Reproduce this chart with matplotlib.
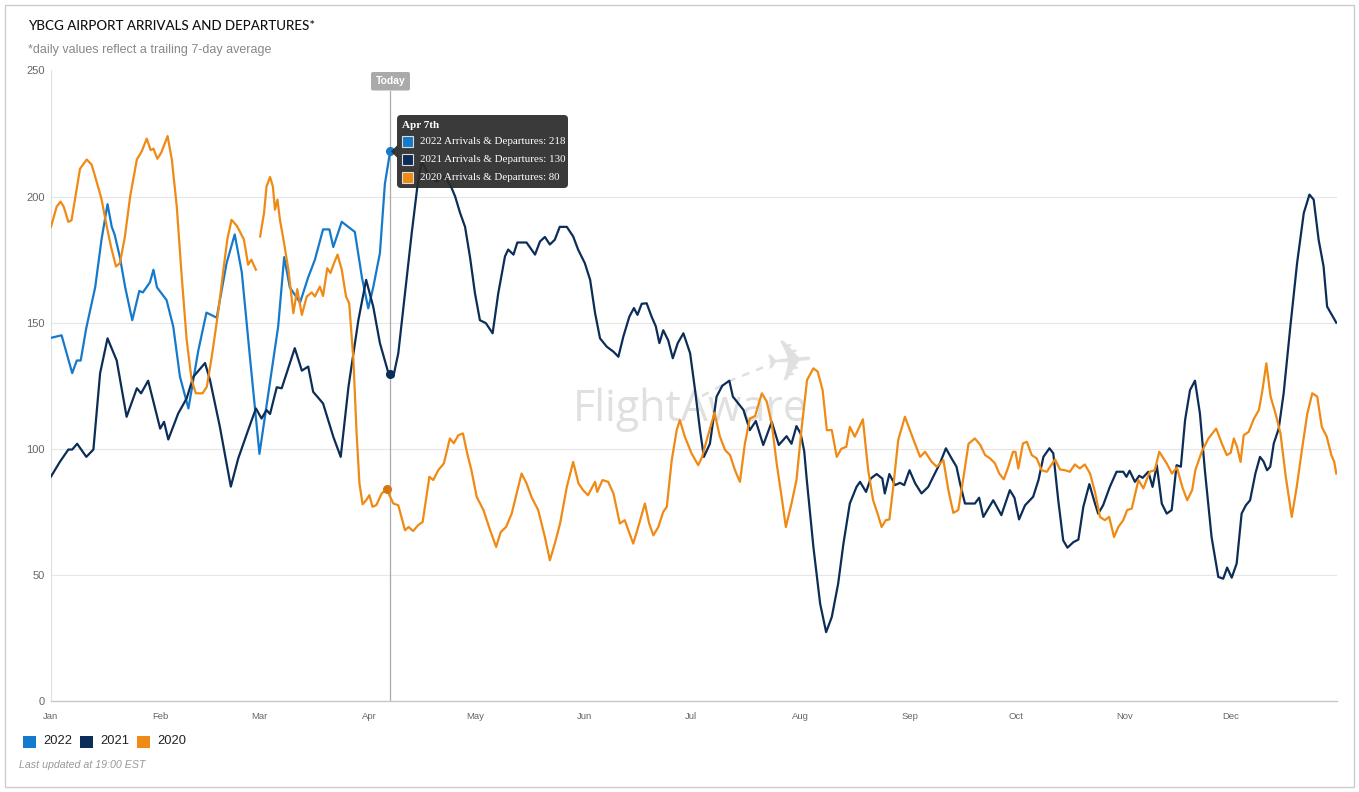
import numpy as np
import matplotlib
matplotlib.use("Agg")
import matplotlib.pyplot as plt
from matplotlib.patches import Rectangle, FancyBboxPatch, Polygon

W, H = 1359, 792

# ---------------- data ----------------
month_labels = ["Jan", "Feb", "Mar", "Apr", "May", "Jun",
                "Jul", "Aug", "Sep", "Oct", "Nov", "Dec"]
month_days = [0, 31, 59, 90, 120, 151, 181, 212, 243, 273, 304, 334]
y_ticks = [0, 50, 100, 150, 200, 250]

series_names = ["2022", "2021", "2020"]

days_2022 = [0, 3, 6, 7.3, 8.4, 10, 12.5, 14.3, 16, 17.2, 18, 19.5, 21, 23, 25, 26,
             28, 29, 30, 32.7, 34.6, 36.5, 38.9, 41.7, 44, 46.9, 49.7, 52, 54, 56.3,
             59, 61, 64.3, 66, 67.6, 70.5, 72.8, 74.7, 77, 78.8, 79.9, 82.3, 86, 88,
             89.8, 91.2, 93.1, 94.5, 96]
arr_dep_2022 = [144, 145, 130, 135, 135, 148, 164, 183, 197, 188, 185, 176, 164, 151,
                162.6, 162, 166, 171, 164, 159, 148.5, 128.6, 116, 139, 154, 152, 173.6,
                185, 170, 136.5, 98, 117, 148.5, 176, 164, 158, 168, 175, 187, 187, 180,
                190, 186, 168, 155.7, 164, 177.6, 205, 218]

days_2021 = [0, 2.5, 4.9, 6, 7.4, 10, 12, 13.9, 16, 18.6, 21.4, 24.3, 25.5, 27.5, 30.9,
             32, 33.2, 36, 38.4, 40.3, 43.6, 45, 47.8, 50.9, 53, 55.8, 58, 59.6, 61, 62,
             63.9, 65.3, 67, 69, 71, 72.8, 74.2, 77, 79.9, 82, 84.2, 87, 89.2, 91.2, 93.1,
             95.5, 96.9, 98.3, 100.2, 102.1, 103.7, 104.9, 107.3, 109.2, 111.5, 113.4,
             114.4, 115.8, 117.2, 118.6, 120, 121.4, 123.1, 125, 126.6, 128.5, 129.4,
             130.9, 132, 134.6, 137, 138.4, 139.8, 141.2, 142.6, 144, 146, 147.8, 149.2,
             151.1, 152.6, 154, 155.4, 157.3, 159.2, 160.6, 162, 163.7, 165, 166, 167.2,
             168.6, 170, 171.2, 172.2, 173.3, 174.7, 176, 177.4, 179, 180.9, 182.3,
             183.7, 184.8, 186.5, 188.4, 190, 192, 193, 196, 197.8, 199.5, 201.6, 204,
             206, 208.2, 209.6, 211, 212.2, 213.2, 213.9, 215.8, 217.7, 219.4, 221,
             222.8, 224.3, 226.1, 228, 229, 230.7, 232, 233.7, 235.3, 236, 237.3, 238.9,
             240.3, 241.5, 243, 244.6, 246.4, 248.3, 249.7, 251.6, 253.3, 254.9, 256.3,
             257.3, 258.7, 261.5, 262.7, 263.9, 266.7, 269, 271.4, 272.7, 274, 275.7,
             278, 279.5, 280.9, 282.6, 283.7, 285.1, 286.5, 287.7, 289.4, 290.8, 292.2,
             293.9, 295.5, 296.4, 297.8, 299.7, 301.6, 303.5, 304.4, 305.3, 306.8, 308,
             309, 310.6, 311.8, 313, 314.4, 315.8, 317.2, 318.6, 319.8, 321, 322.4,
             323.8, 325.2, 326.6, 328.5, 330.4, 331.8, 332.9, 334.2, 335.6, 337, 338.2,
             339.4, 340.9, 342.2, 343.2, 344.2, 345.1, 346.1, 347.5, 348.9, 350.8,
             352.7, 354.6, 356.2, 357.4, 358.8, 360.2, 361.2, 362.6, 363.8]
arr_dep_2021 = [89, 94.8, 99.7, 99.7, 102, 96.8, 99.7, 130, 143.8, 135, 112.7, 124, 122,
                127, 108, 110.7, 103.7, 114, 120, 128.6, 134, 127.3, 108.7, 85, 96.2,
                107.4, 116, 112, 115.4, 113.8, 124.4, 124, 131.3, 139.9, 131, 132.6,
                122.6, 118, 104.8, 96.8, 124.6, 151, 167, 156.4, 141.9, 130, 128.6, 137.9,
                161.7, 185.5, 204, 214, 207.5, 206, 208, 203.4, 200, 193.5, 188, 176,
                161.7, 151, 149.8, 145.8, 161.7, 176.3, 179, 177, 181.8, 181.8, 177,
                182.2, 184, 181, 182.9, 188, 188, 184.2, 179, 173.6, 167, 153.8, 143.8,
                140.5, 138.5, 136.5, 144.5, 152.4, 155.8, 153.1, 157.5, 157.7, 152.4,
                148.5, 141.9, 147, 143, 135.9, 141.9, 145.8, 137.9, 123.3, 107.4, 96.8,
                102, 120.7, 125, 127, 120.7, 115.4, 107.4, 111, 101.5, 110.7, 101.5, 105,
                102, 109, 106, 99, 88, 61, 38.6, 27.3, 33.3, 46.5, 62.4, 78.3, 84.9,
                86.9, 82.9, 88.2, 90, 88.2, 82.3, 90, 85.6, 86.5, 85.6, 91.5, 86.3, 82.3,
                84.9, 88.9, 94.2, 100.2, 96.2, 92.9, 86.3, 78.3, 78.3, 80.6, 73, 79.6,
                73.7, 83.6, 80.6, 72, 77.6, 81, 87.6, 96.8, 100.2, 98.2, 79.6, 63.7, 60.8,
                63, 64, 77, 86, 78.3, 74.3, 77.6, 84.9, 90.9, 90.9, 88.9, 91.3, 86.9,
                89.3, 88.5, 90.9, 84.9, 93.5, 78.3, 74.3, 75.7, 93.5, 92.9, 111.4, 123.3,
                127, 114, 91.5, 65, 49.2, 48.5, 52.9, 48.9, 54.5, 74.3, 77.6, 79.6, 90.2,
                96.8, 95, 91.5, 92.9, 102.1, 108, 122, 148.5, 173.6, 193.5, 200.8, 198.8,
                182.9, 172.3, 156.4, 153, 150]

# 2020 has a short gap at the end of February
days_2020_jan_feb = [0, 1.6, 2.7, 3.6, 4.9, 5.8, 6.8, 8.2, 10.1, 11.5, 12.9, 14.3, 15.8,
                     17, 18.4, 19.5, 20.9, 22.4, 24.3, 25.7, 27.1, 28.2, 29, 30.1, 31.2,
                     33, 34.2, 35.6, 37, 38.4, 39.8, 41, 42.9, 44.1, 45.5, 47.4, 48.8,
                     49.9, 51.1, 52.6, 53.5, 54.6, 55.8, 56.7, 58]
arr_dep_2020_jan_feb = [188, 196, 198, 196, 190, 190.6, 199, 211, 214.7, 212.7, 206, 199,
                        188, 180, 172.3, 173.6, 184, 200, 214.7, 218, 223, 218.4, 219,
                        215, 217.4, 224, 214.7, 196, 168.3, 143.2, 127.3, 122, 122, 124.6,
                        136.5, 155, 171, 183, 190.8, 188.4, 186, 183, 173, 175, 171]
days_2020_mar_dec = [59.2, 60.3, 61, 62, 62.8, 63.4, 64.1, 64.8, 65.8, 67.2, 68.6, 69.7,
                     71, 72.4, 73.8, 74.7, 76.1, 77, 78.2, 79.1, 80.1, 81.1, 82.3, 83.5,
                     84.4, 85.6, 86.5, 87.3, 88.2, 89.2, 90.1, 91, 92.1, 93.6, 95, 96.9,
                     98.3, 100.2, 101.2, 102.5, 103.9, 105.2, 107.1, 108.2, 109.6, 111.2,
                     112.9, 114, 115.3, 116.6, 117.8, 119, 120.5, 122.4, 124.3, 126,
                     127.3, 128.8, 130.4, 131.8, 133.2, 134.6, 136, 137.9, 139.8, 141.2,
                     142.6, 144.1, 146, 147.8, 149.3, 150.6, 152, 154, 154.6, 156.1,
                     157.7, 159.2, 161, 162.4, 164.8, 166.5, 168.1, 169.3, 170.5, 171.9,
                     173.3, 174.3, 175.7, 177.1, 178, 179.4, 181.3, 183.2, 184.3, 186,
                     187.8, 189.3, 190.8, 192.2, 193.6, 195, 196.4, 197.8, 199.3, 201.2,
                     202.6, 204, 205.4, 206.8, 208, 209.6, 211, 212.5, 214, 215.8, 217,
                     218.4, 219.6, 221, 222.4, 223.7, 225.1, 226.1, 227.5, 228.4, 229.8,
                     231.3, 232.7, 234.1, 235.1, 236.3, 237.3, 238.4, 239.8, 241.7,
                     243.1, 244.5, 246, 247.4, 249.3, 250.7, 252.6, 254, 255.4, 256.8,
                     258.3, 259.7, 261.5, 263, 264.4, 265.8, 267.2, 268.4, 269.7, 271,
                     272.3, 273, 273.8, 275.1, 276.2, 277.6, 279, 280.4, 281.9, 282.8,
                     284.2, 285.6, 287, 288.4, 289.8, 291.2, 292.6, 294.1, 295.5, 296.9,
                     298.3, 299.5, 300.9, 302.1, 303.5, 304.6, 305.9, 307.8, 309.2, 311,
                     312.4, 313.7, 314.6, 315.8, 317.3, 318.7, 320.2, 321.6, 323, 323.9,
                     325.7, 327.6, 329.8, 331.4, 332.8, 333.9, 334.8, 335.7, 336.7,
                     337.6, 339, 340.5, 341.9, 342.9, 344, 345.2, 346.6, 348, 349.5,
                     351.2, 352.6, 354.2, 355.6, 357, 358.4, 359.7, 361.1, 362.4, 363.2,
                     363.8]
arr_dep_2020_mar_dec = [184.2, 193.5, 204, 207.8, 204, 194.8, 198.8, 190.8, 183, 171,
                        153.8, 163.3, 153.1, 160.4, 162, 160.4, 164.3, 160.6, 171.6,
                        169.7, 173.6, 177, 171, 160.4, 157.7, 135.2, 106.1, 86.3, 78,
                        79.6, 81.6, 77, 77.7, 82.3, 84, 78.3, 77.6, 67.7, 69, 67.4, 69.7,
                        71, 88.9, 87.6, 91.5, 94.2, 104.1, 102.2, 105.4, 106.1, 98.2,
                        91.5, 80.9, 75.7, 67.7, 61.1, 67, 69, 74.3, 82.3, 90.2, 86.3,
                        80.9, 75.7, 65, 55.8, 62.4, 70.4, 84.9, 94.8, 86.3, 83.6, 81.6,
                        86.9, 82.9, 87.6, 86.9, 82.3, 70.4, 71.7, 62.4, 70.4, 78.3, 70.4,
                        65.7, 69, 75, 77, 95.5, 107.4, 111.4, 104.8, 98.2, 93.5, 96.8,
                        105.5, 114.3, 105, 99.5, 97.5, 91.5, 86.9, 102, 112, 113, 122,
                        118.7, 110, 94.2, 80.9, 69, 78.3, 87.6, 108.7, 127.3, 131.9,
                        130.6, 123.3, 107.4, 107.4, 96.8, 100, 100.8, 108.7, 104.8,
                        107.4, 111.7, 91.5, 79.6, 73.7, 69, 71.7, 72, 84.9, 103.5, 112.7,
                        107.4, 102.2, 96.8, 98.8, 94.8, 92.9, 95.5, 83.6, 74.6, 75.7,
                        88.9, 102, 104.1, 101.6, 97.5, 96.2, 94.2, 90.2, 87.9, 93, 98.8,
                        98.8, 92.2, 102.1, 102.8, 97.5, 96.2, 91.5, 90.9, 92.9, 95.8,
                        91.8, 91.5, 90.9, 93.8, 92.2, 93.8, 90.2, 82.9, 73, 71.7, 73, 65,
                        69, 71.7, 75.7, 76.3, 87.6, 84.3, 90.9, 91.5, 98.8, 96.8, 94.2,
                        90.2, 92.6, 84.9, 79.6, 83.6, 91.5, 98.8, 104.1, 108, 102.1,
                        97.5, 98.4, 104.1, 100.8, 94.8, 105.4, 106.7, 112, 115.4, 123.3,
                        133.9, 120.7, 114, 106.1, 88.9, 73, 84.9, 100.8, 114, 122, 120.7,
                        108.7, 104.8, 97.5, 94.9, 90.2]

tooltip_date = "Apr 7th"
tooltip_values = [218, 130, 80]
today_day = 96
marker_days = [96, 96, 95]

# ---------------- style ----------------
C22, C21, C20 = "#1579cc", "#0b2d57", "#ef8a14"
colors = [C22, C21, C20]
SANS = ["Liberation Sans", "DejaVu Sans"]

plt.rcParams["font.family"] = SANS

fig = plt.figure(figsize=(W / 100, H / 100), dpi=100)
fig.patch.set_facecolor("white")

# background layer for watermark
bg = fig.add_axes([0, 0, 1, 1], zorder=0)
bg.set_xlim(0, W)
bg.set_ylim(H, 0)
bg.axis("off")
wm = "#e0e0e0"
bg.text(573, 421, "FlightAware", fontsize=31, family=["Open Sans", "DejaVu Sans"],
        color=wm, ha="left", va="baseline")
bg.text(790, 364, "\u2708", fontsize=42, family="DejaVu Sans", color=wm,
        ha="center", va="center", rotation=5)
bg.plot([702, 732, 764], [396, 380, 367], ls=(0, (3, 3)), lw=1.8, color=wm)

# main chart
ax = fig.add_axes([51 / W, 1 - 701 / H, (1337 - 51) / W, (701 - 70.5) / H], zorder=1)
ax.set_facecolor("none")
ax.set_xlim(0, 364)
ax.set_ylim(0, 250)
ax.set_yticks(y_ticks)
ax.set_yticklabels([str(t) for t in y_ticks])
ax.set_xticks(month_days)
ax.set_xticklabels(month_labels)
ax.tick_params(axis="y", length=0, pad=4.5, labelsize=8, labelcolor="#666666")
ax.tick_params(axis="x", length=0, pad=8, labelsize=6.8, labelcolor="#666666")
ax.grid(axis="y", color="#e6e6e6", lw=0.8)
ax.set_axisbelow(True)
for s in ["top", "right"]:
    ax.spines[s].set_visible(False)
ax.spines["left"].set_color("#e0e0e0")
ax.spines["left"].set_linewidth(0.8)
ax.spines["bottom"].set_color("#c8c8c8")
ax.spines["bottom"].set_linewidth(1.0)

lw = 1.6
ax.plot(days_2022, arr_dep_2022, color=C22, lw=lw, solid_joinstyle="round", zorder=3)
ax.plot(days_2021, arr_dep_2021, color=C21, lw=lw, solid_joinstyle="round", zorder=3)
ax.plot(days_2020_jan_feb, arr_dep_2020_jan_feb, color=C20, lw=lw,
        solid_joinstyle="round", zorder=3)
ax.plot(days_2020_mar_dec, arr_dep_2020_mar_dec, color=C20, lw=lw,
        solid_joinstyle="round", zorder=3)

# today line
ax.axvline(today_day, color="#aaaaaa", lw=0.9, ymax=(701 - 90.5) / (701 - 70.5), zorder=2)

# markers at today
all_days = [days_2022, days_2021, days_2020_mar_dec]
all_vals = [arr_dep_2022, arr_dep_2021, arr_dep_2020_mar_dec]
mcols = [C22, C21, "#d9760f"]
for dd, vv, md, mc in zip(all_days, all_vals, marker_days, mcols):
    ax.plot([md], [np.interp(md, dd, vv)], "o", ms=5.5, color=mc, zorder=4)

# overlay layer (texts, tooltip, legend)
ov = fig.add_axes([0, 0, 1, 1], zorder=5)
ov.set_facecolor("none")
ov.set_xlim(0, W)
ov.set_ylim(H, 0)
ov.axis("off")

# border
ov.add_patch(Rectangle((4.5, 4.5), 1349, 782, fill=False, ec="#cccccc", lw=1))

ov.text(28, 26, "YBCG AIRPORT ARRIVALS AND DEPARTURES*", fontsize=9.6,
        family=["Lato", "DejaVu Sans"], fontweight="medium", color="#111111",
        ha="left", va="center")
ov.text(28, 49.5, "*daily values reflect a trailing 7-day average", fontsize=9,
        color="#888888", ha="left", va="center")

# Today label
ov.add_patch(FancyBboxPatch((371, 72), 39, 18.5, boxstyle="round,pad=0,rounding_size=2",
                            fc="#aaaaaa", ec="none"))
ov.text(390.5, 81, "Today", fontsize=7.5, fontweight="bold", color="white",
        ha="center", va="center")

# tooltip
ov.add_patch(FancyBboxPatch((397, 115), 171, 73, boxstyle="round,pad=0,rounding_size=4",
                            fc="#2b2b2b", ec="none", alpha=0.93))
ov.add_patch(Polygon([[397.5, 145], [391, 151.5], [397.5, 158]], closed=True,
                     fc="#2b2b2b", ec="none", alpha=0.93))
SERIF = ["Liberation Serif", "DejaVu Serif"]
ov.text(402, 126, tooltip_date, fontsize=8, fontweight="bold", family=SERIF,
        color="white", ha="left", va="center")
row_y = [141.7, 159.4, 177.3]
for name, val, col, ry in zip(series_names, tooltip_values, colors, row_y):
    ov.add_patch(Rectangle((402, ry - 5.5), 11, 11, fc=col, ec="#dddddd", lw=0.8))
    ov.text(420, ry, f"{name} Arrivals & Departures: {val}", fontsize=7.9, family=SERIF,
            color="white", ha="left", va="center")

# legend
leg_x = [22.5, 80, 137]
for name, col, lx in zip(series_names, colors, leg_x):
    ov.add_patch(Rectangle((lx, 735.5), 13, 12, fc=col, ec="none"))
    ov.text(lx + 20.5, 741, name, fontsize=9.3, color="#222222", ha="left", va="center")

ov.text(19, 765, "Last updated at 19:00 EST", fontsize=7.7, style="italic",
        color="#999999", ha="left", va="center")

fig.savefig("out.png", dpi=100, facecolor="white")
